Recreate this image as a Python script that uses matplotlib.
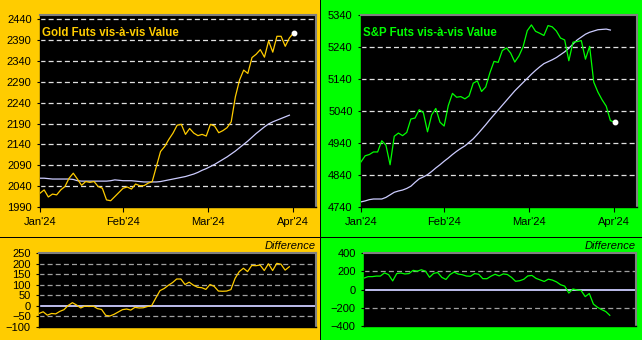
import matplotlib
matplotlib.use("Agg")
import matplotlib.pyplot as plt
from matplotlib.patches import Rectangle
import numpy as np

plt.rcParams['font.family'] = ['Liberation Sans', 'DejaVu Sans']

# ---------------- data ----------------
month_labels = ["Jan'24", "Feb'24", "Mar'24", "Apr'24"]
month_pos = [0, 20, 40.5, 60.75]          # trading-day index of month starts

gold = [2023, 2031, 2014, 2021, 2019, 2031, 2039, 2059, 2071, 2057,
        2042, 2051, 2049, 2051, 2039, 2035, 2007, 2005, 2015, 2025,
        2035, 2038, 2033, 2045, 2041, 2041, 2047, 2051, 2087, 2123,
        2135, 2152, 2167, 2186, 2188, 2164, 2178, 2167, 2161, 2164,
        2160, 2188, 2184, 2168, 2173, 2180, 2194, 2254, 2294, 2318,
        2310, 2348, 2356, 2367, 2349, 2388, 2361, 2399, 2399, 2375,
        2395, 2407]
gold_value = [2059, 2059, 2058, 2057, 2057, 2057, 2057, 2057, 2056, 2053,
              2052, 2052, 2052, 2052, 2052, 2052, 2052, 2053, 2055, 2054,
              2053, 2053, 2053, 2052, 2051, 2050, 2050, 2050, 2050, 2051,
              2053, 2055, 2057, 2059, 2061, 2063, 2066, 2069, 2073, 2078,
              2082, 2087, 2092, 2098, 2104, 2110, 2117, 2124, 2132, 2140,
              2148, 2157, 2166, 2174, 2182, 2189, 2194, 2198, 2202, 2206,
              2210]

spx = [4881, 4900, 4904, 4912, 4912, 4947, 4933, 4872, 4961, 4971,
       4963, 4973, 5015, 5018, 5044, 5035, 4975, 5028, 5048, 5005,
       4993, 5057, 5095, 5083, 5085, 5078, 5087, 5127, 5134, 5101,
       5115, 5159, 5195, 5192, 5229, 5237, 5221, 5193, 5212, 5241,
       5291, 5309, 5289, 5283, 5276, 5307, 5303, 5290, 5268, 5262,
       5197, 5255, 5257, 5260, 5202, 5242, 5130, 5099, 5075, 5055,
       5010, 5005]
spx_value = [4756, 4759, 4763, 4765, 4765, 4765, 4770, 4778, 4786, 4790,
             4793, 4798, 4805, 4817, 4828, 4834, 4841, 4851, 4862, 4872,
             4883, 4893, 4904, 4914, 4923, 4931, 4942, 4953, 4967, 4982,
             4997, 5013, 5028, 5043, 5058, 5073, 5088, 5103, 5116, 5129,
             5142, 5155, 5167, 5178, 5188, 5194, 5200, 5207, 5216, 5225,
             5236, 5249, 5262, 5271, 5280, 5286, 5290, 5294, 5295, 5296,
             5293]

gold_yticks = list(range(1990, 2441, 50))
spx_yticks = list(range(4740, 5341, 100))
gold_diff_ticks = list(range(-100, 251, 50))
spx_diff_ticks = [-400, -200, 0, 200, 400]

# ---------------- figure ----------------
W, H = 642, 340
fig = plt.figure(figsize=(W / 100, H / 100), dpi=100, facecolor='black')

YEL = '#ffcc00'
GRN = '#00ff00'
LAV = '#ccccff'
GRAY = '#808080'

def frect(x0, y0, x1, y1, color):
    # pixel coords (top-left origin)
    fig.add_artist(Rectangle((x0 / W, 1 - y1 / H), (x1 - x0) / W, (y1 - y0) / H,
                             transform=fig.transFigure, facecolor=color,
                             edgecolor='none', zorder=-10))

frect(0, 0, 320, 237, YEL)
frect(0, 238, 320, 340, YEL)
frect(321, 0, 642, 237, GRN)
frect(321, 238, 642, 340, GRN)

def pax(x0, y0, x1, y1):
    return fig.add_axes([x0 / W, 1 - y1 / H, (x1 - x0) / W, (y1 - y0) / H])

XMAX = 66.4

def style(ax):
    ax.set_facecolor('black')
    for s in ('top', 'right'):
        ax.spines[s].set_color(GRAY)
        ax.spines[s].set_linewidth(1.5)
    for s in ('left', 'bottom'):
        ax.spines[s].set_color('black')
        ax.spines[s].set_linewidth(1)
    ax.tick_params(axis='y', length=2, pad=4, labelsize=8, colors='black')
    ax.set_xlim(0, XMAX)

def top_panel(ax, price, value, color, yticks, ylim, title):
    style(ax)
    x = np.arange(len(price))
    xv = np.arange(len(value))
    ax.set_ylim(*ylim)
    ax.set_yticks(yticks)
    for t in yticks[1:]:
        if t < ylim[1]:
            ax.axhline(t, color='#e0e0e0', lw=0.9, ls=(0, (4, 2.5)), zorder=1)
    ax.plot(xv, value, color=LAV, lw=0.9, zorder=3)
    ax.plot(x, price, color=color, lw=0.9, zorder=4)
    ax.plot(x[-1], price[-1], 'o', color='white', ms=3.2, zorder=5)
    ax.set_xticks(month_pos)
    ax.set_xticklabels(month_labels)
    ax.tick_params(axis='x', length=3.5, pad=4, labelsize=8, colors='black',
                   direction='out')
    ax.text(0.008, 0.935, title, transform=ax.transAxes, color=color,
            fontsize=8.3, fontweight='bold', va='top', ha='left', zorder=6)

def diff_panel(ax, price, value, color, yticks):
    style(ax)
    n = min(len(price), len(value))
    d = np.array(price[:n]) - np.array(value[:n])
    ax.set_ylim(yticks[0], yticks[-1])
    ax.set_yticks(yticks)
    for t in yticks[1:-1]:
        if t != 0:
            ax.axhline(t, color='#a0a0a0', lw=0.9, ls=(0, (4, 2.5)), zorder=1)
    ax.axhline(0, color=LAV, lw=1.3, zorder=2)
    ax.plot(np.arange(n), d, color=color, lw=0.9, zorder=4)
    ax.set_xticks([])
    ax.text(1.0, 1.03, 'Difference', transform=ax.transAxes, ha='right',
            va='bottom', fontsize=8, style='italic', color='black')

ax1 = pax(40, 15, 316, 207)
top_panel(ax1, gold, gold_value, YEL, gold_yticks, (1990, 2450),
          'Gold Futs vis-à-vis Value')

ax2 = pax(361, 15, 637, 207)
top_panel(ax2, spx, spx_value, GRN, spx_yticks, (4740, 5340),
          'S&P Futs vis-à-vis Value')

ax3 = pax(39, 253, 316, 327)
diff_panel(ax3, gold, gold_value, YEL, gold_diff_ticks)

ax4 = pax(364, 253, 636, 326)
diff_panel(ax4, spx, spx_value, GRN, spx_diff_ticks)

fig.savefig('out.png', dpi=100, facecolor='black')
